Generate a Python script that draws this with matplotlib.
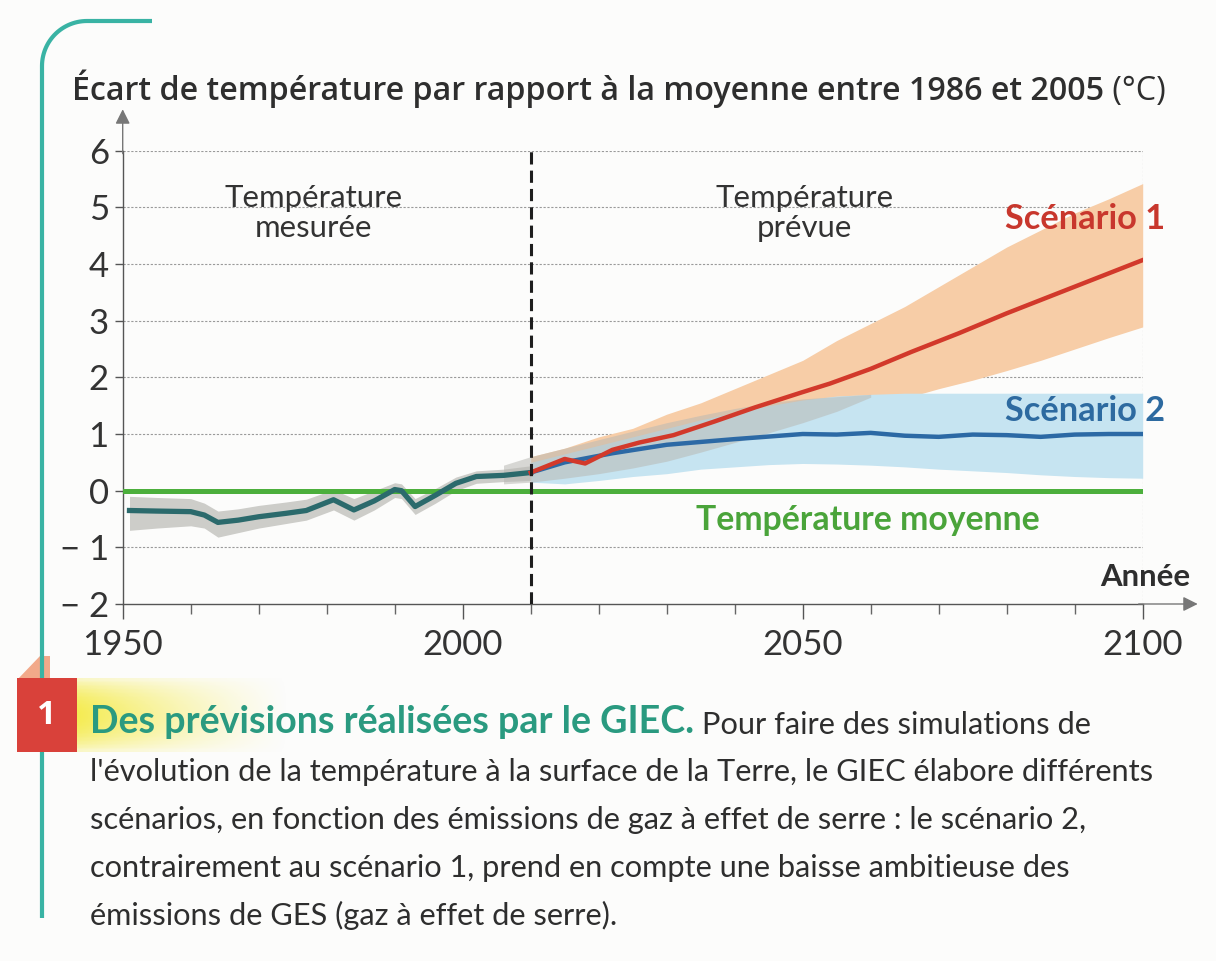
import numpy as np
import matplotlib.pyplot as plt
from matplotlib.patches import Rectangle, Polygon

# --- data ---------------------------------------------------------------
# measured temperature (anomaly vs 1986-2005 mean, °C)
hist_years = [1951, 1955, 1960, 1962, 1964, 1967, 1970, 1974, 1977, 1981,
              1984, 1987, 1990, 1991, 1993, 1996, 1999, 2002, 2006, 2010]
hist_temp = [-0.35, -0.36, -0.37, -0.43, -0.56, -0.52, -0.46, -0.40, -0.35, -0.16,
             -0.34, -0.18, 0.02, 0.0, -0.28, -0.08, 0.13, 0.25, 0.27, 0.32]
hist_upper = [-0.10, -0.12, -0.14, -0.22, -0.36, -0.32, -0.26, -0.20, -0.15, 0.02,
              -0.14, 0.0, 0.14, 0.12, -0.14, 0.04, 0.24, 0.35, 0.38, 0.44]
hist_lower = [-0.70, -0.66, -0.62, -0.66, -0.82, -0.74, -0.66, -0.58, -0.52, -0.34,
              -0.52, -0.34, -0.12, -0.14, -0.42, -0.22, 0.0, 0.13, 0.16, 0.18]

# scenario 1 (red)
sc1_years = [2010, 2015, 2018, 2022, 2026, 2031, 2037, 2043, 2050, 2054,
             2060, 2066, 2073, 2080, 2090, 2100]
sc1 = [0.32, 0.56, 0.48, 0.72, 0.85, 0.98, 1.22, 1.47, 1.74, 1.89,
       2.15, 2.45, 2.78, 3.13, 3.60, 4.07]

# scenario 2 (blue)
sc2_years = [2010, 2015, 2022, 2030, 2040, 2050, 2055, 2060, 2065, 2070,
             2075, 2080, 2085, 2090, 2095, 2100]
sc2 = [0.32, 0.50, 0.66, 0.81, 0.91, 1.00, 0.99, 1.02, 0.97, 0.95,
       0.99, 0.98, 0.95, 0.99, 1.00, 1.00]

# uncertainty ranges
band_years = [2010, 2015, 2020, 2025, 2030, 2035, 2040, 2045, 2050, 2055,
              2060, 2065, 2070, 2075, 2080, 2085, 2090, 2095, 2100]
sc1_upper = [0.60, 0.75, 0.95, 1.10, 1.35, 1.55, 1.80, 2.05, 2.30, 2.65,
             2.95, 3.25, 3.60, 3.95, 4.30, 4.60, 4.90, 5.15, 5.42]
sc1_lower = [0.20, 0.30, 0.40, 0.50, 0.62, 0.75, 0.90, 1.05, 1.20, 1.35,
             1.50, 1.63, 1.80, 1.95, 2.12, 2.30, 2.50, 2.70, 2.89]
sc2_upper = [0.50, 0.65, 0.80, 0.95, 1.10, 1.25, 1.38, 1.50, 1.60, 1.67,
             1.70, 1.72, 1.72, 1.72, 1.72, 1.72, 1.72, 1.72, 1.72]
sc2_lower = [0.15, 0.12, 0.18, 0.25, 0.30, 0.38, 0.42, 0.46, 0.48, 0.47,
             0.45, 0.42, 0.38, 0.35, 0.32, 0.28, 0.25, 0.23, 0.22]

overlap_years = [2006, 2010, 2015, 2020, 2025, 2030, 2035, 2040, 2045, 2050, 2055, 2060]
overlap_upper = [0.45, 0.60, 0.75, 0.90, 1.05, 1.20, 1.33, 1.45, 1.55, 1.62, 1.66, 1.70]
overlap_lower = [0.12, 0.15, 0.22, 0.30, 0.40, 0.52, 0.68, 0.85, 1.02, 1.20, 1.40, 1.65]

y_ticks = [-2, -1, 0, 1, 2, 3, 4, 5, 6]
y_labels = ["\u2212 2", "\u2212 1", "0", "1", "2", "3", "4", "5", "6"]
x_major = [1950, 2000, 2050, 2100]

title_bold = "Écart de température par rapport à la moyenne entre 1986 et 2005"
heading = "Des prévisions réalisées par le GIEC."
body = [" Pour faire des simulations de",
        "l'évolution de la température à la surface de la Terre, le GIEC élabore différents",
        "scénarios, en fonction des émissions de gaz à effet de serre : le scénario 2,",
        "contrairement au scénario 1, prend en compte une baisse ambitieuse des",
        "émissions de GES (gaz à effet de serre)."]

# --- colours / fonts -------------------------------------------------------
RED = "#d2392b"
BLUE = "#2c69a5"
TEAL = "#2b6a6c"
GREEN = "#4caf3c"
ORANGE_BAND = "#f7cda7"
BLUE_BAND = "#c6e4f1"
GREY_BAND = "#b9b9b4"
DARK = "#2e2e2e"
LATO = ["Lato", "DejaVu Sans"]
HEAD = ["Open Sans", "DejaVu Sans"]

W, H = 1216, 961
fig = plt.figure(figsize=(W / 100, H / 100), dpi=100, facecolor="#fcfcfb")
renderer = fig.canvas.get_renderer()


def fit(t, width):
    # scale a text so that it spans the given pixel width
    w = t.get_window_extent(renderer).width
    t.set_fontsize(t.get_fontsize() * width / w)
    return t


# pixel-space overlay for page decorations
deco = fig.add_axes([0, 0, 1, 1], zorder=0)
deco.set_xlim(0, W)
deco.set_ylim(H, 0)
deco.axis("off")

x0, x1, y_top, y_bot = 122.7, 1142.7, 150.7, 604.0
ax = fig.add_axes([x0 / W, 1 - y_bot / H, (x1 - x0) / W, (y_bot - y_top) / H], zorder=2)
ax.patch.set_alpha(0)
ax.set_xlim(1950, 2100)
ax.set_ylim(-2, 6)

# grid
for v in y_ticks[1:]:
    ax.axhline(v, color="#9a9a9a", lw=0.8, ls=(0, (2, 1.5)), zorder=1)
ax.axvline(2100, color="#b0b0b0", lw=0.8, ls=(0, (2, 1.5)), zorder=1)

# bands
ax.fill_between(band_years, sc1_lower, sc1_upper, color=ORANGE_BAND, lw=0, zorder=2)
ax.fill_between(band_years, sc2_lower, sc2_upper, color=BLUE_BAND, lw=0, zorder=2.1)
ax.fill_between(overlap_years, overlap_lower, overlap_upper, color=GREY_BAND,
                alpha=0.55, lw=0, zorder=2.2)
ax.fill_between(hist_years, hist_lower, hist_upper, color=GREY_BAND,
                alpha=0.7, lw=0, zorder=2.2)

# mean line + series
ax.axhline(0, color=GREEN, lw=3.6, zorder=3)
ax.plot(hist_years, hist_temp, color=TEAL, lw=3.8, solid_joinstyle="round", zorder=4)
ax.plot(sc2_years, sc2, color=BLUE, lw=3.2, zorder=4)
ax.plot(sc1_years, sc1, color=RED, lw=3.2, zorder=5)

# 2010 separator
ax.plot([2010, 2010], [-2, 6], color="#1e1e1e", lw=2.2, dashes=(4, 2), zorder=6)

# axes styling
for s in ["top", "right"]:
    ax.spines[s].set_visible(False)
for s in ["left", "bottom"]:
    ax.spines[s].set_color("#555555")
    ax.spines[s].set_linewidth(1.0)
ax.set_xticks(x_major)
ax.set_xticklabels([str(y) for y in x_major])
ax.set_xticks(np.arange(1960, 2100, 10), minor=True)
ax.tick_params(axis="x", which="major", length=11, width=1, color="#555555",
               pad=7, labelsize=25, labelcolor="#333333")
ax.tick_params(axis="x", which="minor", length=7, width=1, color="#666666")
ax.set_yticks(y_ticks)
ax.set_yticklabels(y_labels)
ax.tick_params(axis="y", length=6, width=1, color="#555555", pad=4,
               labelsize=25, labelcolor="#333333")
for lab in ax.get_xticklabels() + ax.get_yticklabels():
    lab.set_family(LATO)

# arrow heads on axes
ax.annotate("", xy=(1950, 6.78), xytext=(1950, 5.9),
            arrowprops=dict(arrowstyle="-|>", color="#777777", lw=1,
                            mutation_scale=22), annotation_clip=False)
ax.annotate("", xy=(2108.5, -2), xytext=(2099, -2),
            arrowprops=dict(arrowstyle="-|>", color="#777777", lw=1,
                            mutation_scale=22), annotation_clip=False)

# annotations inside the plot
fit(ax.text(1978, 4.9, "Température\nmesurée", ha="center", va="center",
            fontsize=20, family=LATO, color="#333333", linespacing=1.1, zorder=7), 178)
fit(ax.text(2050.3, 4.9, "Température\nprévue", ha="center", va="center",
            fontsize=20, family=LATO, color="#333333", linespacing=1.1, zorder=7), 178)
fit(ax.text(2103.3, 4.79, "Scénario 1", ha="right", va="center", fontsize=20,
            family=LATO, fontweight="bold", color="#c8372d", zorder=7, clip_on=False), 160)
fit(ax.text(2103.3, 1.41, "Scénario 2", ha="right", va="center", fontsize=20,
            family=LATO, fontweight="bold", color="#2d6aa0", zorder=7, clip_on=False), 160)
fit(ax.text(2059.6, -0.52, "Température moyenne", ha="center", va="center",
            fontsize=19, family=LATO, fontweight="bold", color="#4aa43a", zorder=7), 343)
fit(ax.text(2107, -1.52, "Année", ha="right", va="center", fontsize=19,
            family=LATO, fontweight="bold", color=DARK, zorder=7, clip_on=False), 90)

# title
t1 = fit(deco.text(72, 100, title_bold, fontsize=21, family=HEAD, fontweight="semibold",
                   color=DARK, va="baseline", ha="left"), 1031)
deco.annotate(" (°C)", xy=(1, 0), xycoords=t1, va="bottom", ha="left",
              fontsize=t1.get_fontsize(), family=HEAD, color=DARK)

# teal bracket along the left of the document
th = np.linspace(0, np.pi / 2, 30)
bx = np.concatenate([[42], 87 - 45 * np.cos(th), [152]])
by = np.concatenate([[918], 66 - 45 * np.sin(th), [21]])
deco.plot(bx, by, color="#39b3a4", lw=3, solid_capstyle="butt")

# caption block: folded corner, yellow glow, red number box
deco.add_patch(Polygon([(17, 680), (40, 656), (50, 656), (50, 680)],
                       closed=True, color="#f2a98a", lw=0, zorder=1))
glow = np.zeros((20, 200, 4))
glow[..., 0], glow[..., 1], glow[..., 2] = 0.96, 0.92, 0.25
fade_x = np.linspace(1, 0, 200) ** 1.3
fade_y = np.sin(np.linspace(0.15, np.pi - 0.15, 20))[:, None] ** 0.6
glow[..., 3] = 0.9 * fade_x[None, :] * fade_y
deco.imshow(glow, extent=(77, 290, 752, 678), aspect="auto", zorder=1)
deco.add_patch(Rectangle((17, 678), 60, 74, color="#d9413a", lw=0, zorder=2))
deco.text(47, 716, "1", ha="center", va="center", fontsize=24, fontweight="bold",
          family=HEAD, color="white", zorder=3)

h1 = fit(deco.text(90, 733, heading, fontsize=24, family=LATO, fontweight="bold",
                   color="#2a9a80", va="baseline", ha="left", zorder=3), 605)
lines = [deco.text(90, 781 + 48 * i, line, fontsize=20, family=LATO, color=DARK,
                   va="baseline", ha="left") for i, line in enumerate(body[1:])]
fit(lines[0], 1070)
for t in lines[1:]:
    t.set_fontsize(lines[0].get_fontsize())
deco.annotate(body[0], xy=(1, 0), xycoords=h1, va="bottom", ha="left",
              fontsize=lines[0].get_fontsize(), family=LATO, color=DARK)

fig.savefig("out.png", dpi=100, facecolor=fig.get_facecolor())
